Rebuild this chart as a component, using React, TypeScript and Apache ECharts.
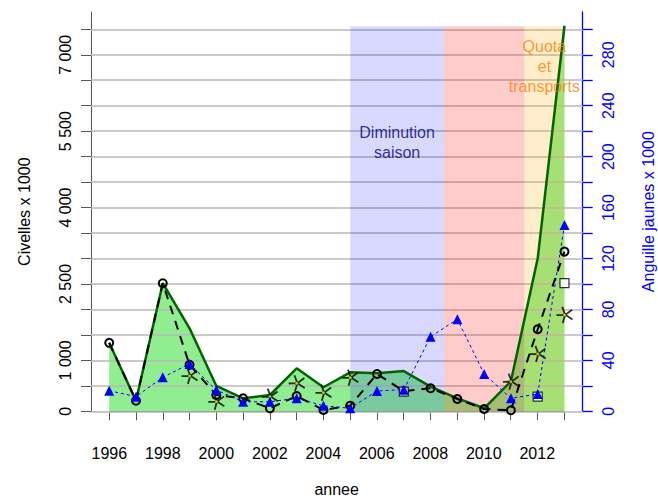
import React, { useEffect, useRef } from "react";
import * as echarts from "echarts";

const years = [1996, 1997, 1998, 1999, 2000, 2001, 2002, 2003, 2004, 2005, 2006, 2007, 2008, 2009, 2010, 2011, 2012, 2013];
const totalCivelles = [1345, 208, 2515, 1630, 497, 255, 320, 845, 472, 765, 745, 790, 483, 255, 59, 590, 3000, 7570];
const civellesCercles = [1345, 208, 2515, 912, 320, 255, 59, 300, 25, 110, 733, 395, 452, 242, 45, 20, 1611, 3136];
const civellesEtoiles = [null, null, null, 694, 189, null, 287, 550, 365, 660, null, null, null, null, null, 582, 1126, 1892];
const civellesCarres = [null, null, null, null, null, null, null, null, null, null, null, 385, null, null, null, null, 287, 2515];
const anguillesJaunes = [16.2, 11.5, 26.7, 37.2, 16.7, 7.5, 7.5, 10.2, 4.4, 2.4, 16, 17, 58.6, 72.3, 29.3, 10.2, 13.6, 146.4];

const zoneStarts = [2005, 2008.5, 2011.5];
const zoneEnds = [2008.5, 2011.5, 2013];
const zoneColors = ["rgba(0,0,255,0.15)", "rgba(255,0,0,0.2)", "rgba(255,165,0,0.2)"];
const zoneTop = 7560;

const annotationX = [2006.75, 2012.25];
const annotationY = [5270, 6770];
const annotationTexts = ["Diminution\nsaison", "Quota\net\ntransports"];
const annotationColors = ["#000080", "#ff7f00"];

const leftTicks = [0, 500, 1000, 1500, 2000, 2500, 3000, 3500, 4000, 4500, 5000, 5500, 6000, 6500, 7000, 7500];
const leftLabels = [0, 1000, 2500, 4000, 5500, 7000];
const rightTicks = [0, 20, 40, 60, 80, 100, 120, 140, 160, 180, 200, 220, 240, 260, 280, 300];
const rightLabels = [0, 40, 80, 120, 160, 200, 240, 280];
const xLabelYears = [1996, 1998, 2000, 2002, 2004, 2006, 2008, 2010, 2012];

const FONT = "'Liberation Sans', Arial, sans-serif";

function fmtThousands(v: number): string {
  if (v >= 1000) {
    const th = Math.floor(v / 1000);
    const rest = String(v % 1000).padStart(3, "0");
    return th + " " + rest;
  }
  return String(v);
}

function pairs(arr: (number | null)[]) {
  const out: number[][] = [];
  years.forEach((y, i) => {
    const v = arr[i];
    if (v !== null && v !== undefined) out.push([y, v]);
  });
  return out;
}

const STAR =
  "path://M7,7L4.61,0.42M7,7L12.52,2.69M7,7L12.8,10.91M7,7L5.07,13.73M7,7L0.01,7.24";

export default function App() {
  const ref = useRef<HTMLDivElement>(null);
  useEffect(() => {
    document.body.style.margin = "0";
    if (!ref.current) return;
    const chart = echarts.init(ref.current, undefined, { renderer: "svg" });
    const option: any = {
      animation: false,
      textStyle: { fontFamily: FONT },
      grid: [
        { left: 91, right: 75.3, top: 12, bottom: 88.7, outerBoundsMode: "none", containLabel: false },
        { left: 109.3, right: 94, top: 12, bottom: 88.7, outerBoundsMode: "none", containLabel: false },
      ],
      xAxis: [
        { type: "value", gridIndex: 0, min: 1995.32, max: 2013.68, show: false, splitLine: { show: false } },
        {
          type: "value",
          gridIndex: 1,
          min: 1996,
          max: 2013,
          interval: 1,
          offset: 12.7,
          name: "annee",
          nameLocation: "middle",
          nameGap: 57,
          nameTextStyle: { fontSize: 16, color: "#000", fontFamily: FONT },
          axisLine: { show: true, lineStyle: { color: "#555", width: 1 } },
          axisTick: { show: true, length: 9, lineStyle: { color: "#555", width: 1 } },
          axisLabel: {
            show: true,
            customValues: xLabelYears,
            fontSize: 16,
            color: "#000",
            margin: 21,
            fontFamily: FONT,
            formatter: (v: number) => String(v),
          },
          splitLine: { show: false },
        },
      ],
      yAxis: [
        {
          type: "value",
          gridIndex: 0,
          min: 0,
          max: 7840,
          position: "left",
          name: "Civelles x 1000",
          nameLocation: "middle",
          nameRotate: 90,
          nameGap: 59,
          nameTextStyle: { fontSize: 16, color: "#000", fontFamily: FONT },
          axisLine: { show: true, lineStyle: { color: "#555", width: 1 } },
          axisTick: { show: true, length: 10, customValues: leftTicks, lineStyle: { color: "#555", width: 1 } },
          axisLabel: {
            show: true,
            customValues: leftLabels,
            rotate: 90,
            fontSize: 16,
            color: "#000",
            margin: 18,
            fontFamily: FONT,
            formatter: (v: number) => fmtThousands(v),
          },
          splitLine: { show: false },
        },
        {
          type: "value",
          gridIndex: 0,
          min: 0,
          max: 313.6,
          position: "right",
          name: "Anguille jaunes x 1000",
          nameLocation: "middle",
          nameRotate: 90,
          nameGap: 58,
          nameTextStyle: { fontSize: 16, color: "#0000ff", fontFamily: FONT },
          axisLine: { show: true, lineStyle: { color: "#0000ff", width: 1.3 } },
          axisTick: { show: true, length: 10, customValues: rightTicks, lineStyle: { color: "#0000ff", width: 1.3 } },
          axisLabel: {
            show: true,
            customValues: rightLabels,
            rotate: 90,
            fontSize: 16,
            color: "#0000ff",
            margin: 18,
            fontFamily: FONT,
            formatter: (v: number) => String(v),
          },
          splitLine: { show: false },
        },
        { type: "value", gridIndex: 1, min: 0, max: 1, show: false, splitLine: { show: false } },
      ],
      series: [
        {
          name: "total-area",
          type: "line",
          xAxisIndex: 0,
          yAxisIndex: 0,
          z: 1,
          data: pairs(totalCivelles),
          symbol: "none",
          lineStyle: { width: 0, opacity: 0 },
          areaStyle: { color: "#90ee90", opacity: 1 },
          silent: true,
          markLine: {
            z: 2,
            silent: true,
            symbol: ["none", "none"],
            label: { show: false },
            lineStyle: { color: "#b8b8b8", type: "solid", width: 1.5 },
            emphasis: { disabled: true },
            data: leftTicks.map((v) => ({ yAxis: v })),
          },
          markArea: {
            z: 3,
            silent: true,
            label: { show: false },
            data: zoneStarts.map((s, i) => [
              { xAxis: s, yAxis: 0, itemStyle: { color: zoneColors[i] } },
              { xAxis: zoneEnds[i], yAxis: zoneTop },
            ]),
          },
        },
        {
          name: "total",
          type: "line",
          xAxisIndex: 0,
          yAxisIndex: 0,
          z: 4,
          data: pairs(totalCivelles),
          symbol: "none",
          lineStyle: { color: "#006400", width: 2.5 },
          itemStyle: { color: "#006400" },
        },
        {
          name: "cercles",
          type: "line",
          xAxisIndex: 0,
          yAxisIndex: 0,
          z: 5,
          data: pairs(civellesCercles),
          symbol: "circle",
          symbolSize: 8,
          showAllSymbol: true,
          lineStyle: { color: "#000", width: 2, type: [9, 7] },
          itemStyle: { color: "rgba(0,0,0,0)", borderColor: "#000", borderWidth: 2 },
        },
        {
          name: "etoiles",
          type: "scatter",
          xAxisIndex: 0,
          yAxisIndex: 0,
          z: 6,
          data: pairs(civellesEtoiles),
          symbol: STAR,
          symbolSize: 16,
          itemStyle: { color: "rgba(0,0,0,0)", borderColor: "#000", borderWidth: 1.8 },
        },
        {
          name: "etoiles-centre",
          type: "scatter",
          xAxisIndex: 0,
          yAxisIndex: 0,
          z: 7,
          data: pairs(civellesEtoiles),
          symbol: "circle",
          symbolSize: 3.5,
          itemStyle: { color: "#ffee00", borderColor: "#000", borderWidth: 0.6 },
        },
        {
          name: "carres",
          type: "scatter",
          xAxisIndex: 0,
          yAxisIndex: 0,
          z: 8,
          data: pairs(civellesCarres),
          symbol: "rect",
          symbolSize: 9,
          itemStyle: { color: "#fff", borderColor: "#000", borderWidth: 1.2 },
        },
        {
          name: "anguilles",
          type: "line",
          xAxisIndex: 0,
          yAxisIndex: 1,
          z: 9,
          data: pairs(anguillesJaunes),
          symbol: "triangle",
          symbolSize: 10,
          showAllSymbol: true,
          lineStyle: { color: "#0000ff", width: 1, type: [3, 3] },
          itemStyle: { color: "#0000ff" },
        },
        {
          name: "annotations",
          type: "scatter",
          xAxisIndex: 0,
          yAxisIndex: 0,
          z: 20,
          symbolSize: 0,
          silent: true,
          data: annotationTexts.map((t, i) => ({
            value: [annotationX[i], annotationY[i]],
            name: t,
            label: { color: annotationColors[i] },
          })),
          label: {
            show: true,
            position: "inside",
            formatter: "{b}",
            fontSize: 16,
            lineHeight: 20,
            align: "center",
            fontFamily: FONT,
          },
        },
      ],
    };
    chart.setOption(option);
    return () => {
      chart.dispose();
    };
  }, []);
  return <div ref={ref} style={{ width: 658, height: 500 }} />;
}
